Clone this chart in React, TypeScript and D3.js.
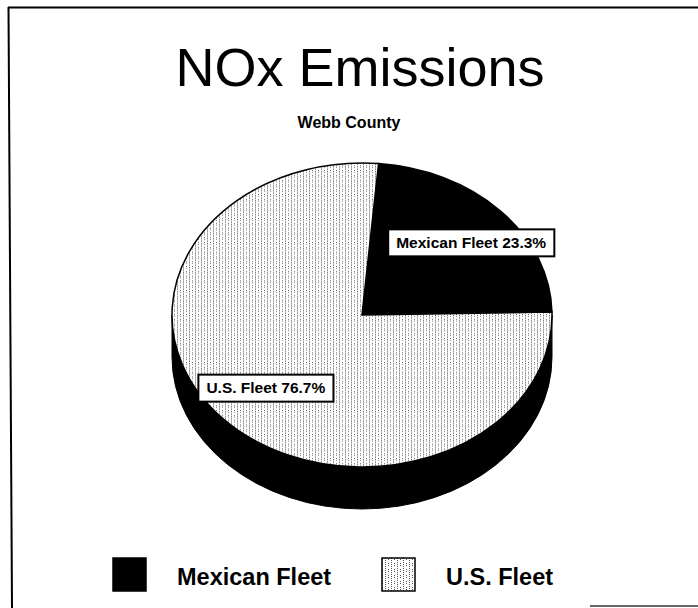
import React, { useEffect, useRef } from 'react';
import * as d3 from 'd3';

const categories = ['Mexican Fleet', 'U.S. Fleet'];
const shares = [23.3, 76.7];
const labels = ['Mexican Fleet 23.3%', 'U.S. Fleet 76.7%'];

const W = 698, H = 608;
const FONT = "'Liberation Sans', Arial, Helvetica, sans-serif";

export default function App() {
  const ref = useRef<SVGSVGElement>(null);

  useEffect(() => {
    const svg = d3.select(ref.current);
    svg.selectAll('*').remove();

    // vertical dotted texture used for the U.S. fleet
    const defs = svg.append('defs');
    const pat = defs.append('pattern')
      .attr('id', 'usdots')
      .attr('patternUnits', 'userSpaceOnUse')
      .attr('width', 6).attr('height', 6);
    pat.append('rect').attr('width', 6).attr('height', 6).attr('fill', '#fff');
    [[1, 0], [1, 2], [1, 4], [4, 1], [4, 5]].forEach(([x, y]) => {
      pat.append('rect').attr('x', x).attr('y', y).attr('width', 1).attr('height', 1).attr('fill', '#555');
    });

    // frame
    svg.append('line').attr('x1', 8).attr('y1', 7.5).attr('x2', W).attr('y2', 7.5)
      .attr('stroke', '#000').attr('stroke-width', 2);
    svg.append('line').attr('x1', 8.5).attr('y1', 7).attr('x2', 12).attr('y2', H)
      .attr('stroke', '#000').attr('stroke-width', 2);
    svg.append('line').attr('x1', 590).attr('y1', 606).attr('x2', W).attr('y2', 606)
      .attr('stroke', '#333').attr('stroke-width', 1.5);

    // titles
    svg.append('text').attr('x', 360).attr('y', 86).attr('text-anchor', 'middle')
      .attr('font-family', FONT).attr('font-size', 54).text('NOx Emissions');
    svg.append('text').attr('x', 349).attr('y', 128).attr('text-anchor', 'middle')
      .attr('font-family', FONT).attr('font-weight', 'bold').attr('font-size', 16).text('Webb County');

    // 3D pie
    const cx = 362, cy = 315, rx = 190, ry = 152, depth = 42;
    const rad = (deg: number) => deg * Math.PI / 180;
    const start = rad(5);
    const pieGen = d3.pie<number>().sort(null).value(d => d)
      .startAngle(start).endAngle(start + 2 * Math.PI);
    const slices = pieGen(shares);
    const arcGen = d3.arc<d3.PieArcDatum<number>>().innerRadius(0).outerRadius(rx);

    // side wall (front half of the ellipse)
    svg.append('path')
      .attr('d', `M${cx + rx},${cy} A${rx},${ry} 0 0 1 ${cx - rx},${cy} L${cx - rx},${cy + depth} A${rx},${ry} 0 0 0 ${cx + rx},${cy + depth} Z`)
      .attr('fill', '#000').attr('stroke', '#000');

    const top = svg.append('g').attr('transform', `translate(${cx},${cy}) scale(1,${ry / rx})`);
    top.selectAll('path.slice').data(slices).enter().append('path')
      .attr('class', 'slice')
      .attr('d', arcGen)
      .attr('fill', (d, i) => i === 0 ? '#000' : 'url(#usdots)')
      .attr('stroke', '#000').attr('stroke-width', 1.5)
      .attr('vector-effect', 'non-scaling-stroke');

    // slice labels in boxes
    slices.forEach((s, i) => {
      const mid = (s.startAngle + s.endAngle) / 2;
      const lx = cx + rx * 0.7 * Math.sin(mid) + (i === 0 ? 12 : 1);
      const ly = cy - ry * 0.7 * Math.cos(mid);
      const g = svg.append('g');
      const box = g.append('rect');
      const t = g.append('text').attr('x', lx).attr('y', ly + 5.5).attr('text-anchor', 'middle')
        .attr('font-family', FONT).attr('font-weight', 'bold').attr('font-size', 15.5)
        .text(labels[i]);
      const bb = (t.node() as SVGTextElement).getBBox();
      box.attr('x', bb.x - 8).attr('y', ly - 13).attr('width', bb.width + 16).attr('height', 27)
        .attr('fill', '#fff').attr('stroke', '#000').attr('stroke-width', 2);
    });

    // legend
    const legX = [113, 382];
    const legend = svg.append('g');
    categories.forEach((c, i) => {
      legend.append('rect').attr('x', legX[i]).attr('y', 558).attr('width', 33).attr('height', 33)
        .attr('fill', i === 0 ? '#000' : 'url(#usdots)')
        .attr('stroke', '#000').attr('stroke-width', 1.5);
      legend.append('text').attr('x', legX[i] + 64).attr('y', 585)
        .attr('font-family', FONT).attr('font-weight', 'bold').attr('font-size', 23.5).text(c);
    });
  }, []);

  return (
    <svg ref={ref} width={W} height={H} style={{ display: 'block', position: 'absolute', left: 0, top: 0 }} />
  );
}
